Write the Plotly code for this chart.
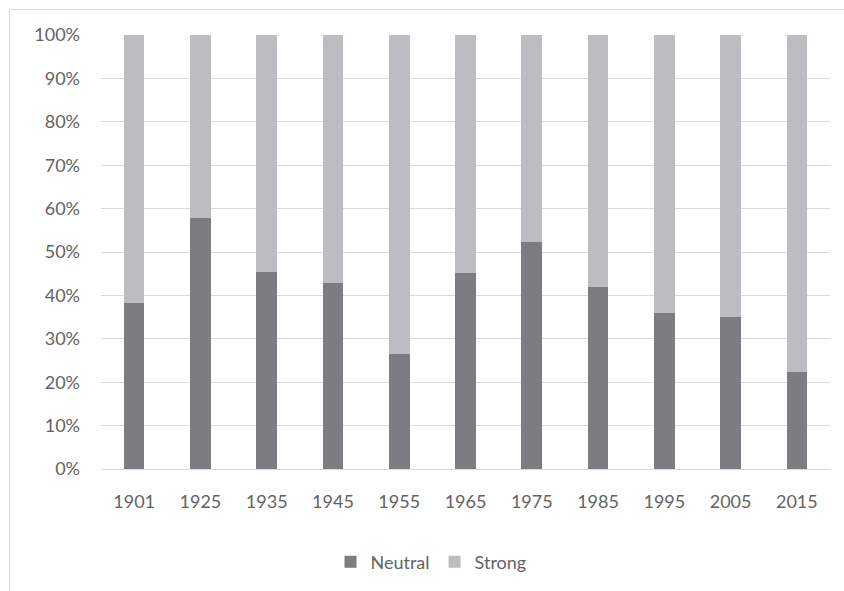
import plotly.graph_objects as go

# Share of each category per year (percent of total)
years = ["1901", "1925", "1935", "1945", "1955", "1965", "1975", "1985", "1995", "2005", "2015"]
neutral = [38.3, 57.9, 45.5, 42.8, 26.4, 45.1, 52.3, 41.9, 35.9, 35.1, 22.4]
strong = [61.7, 42.1, 54.5, 57.2, 73.6, 54.9, 47.7, 58.1, 64.1, 64.9, 77.6]
y_ticks = list(range(0, 101, 10))
y_tick_labels = [f"{v}%" for v in y_ticks]

W, H = 844, 591
L, R, T, B = 101, 14, 35, 121
plot_w = W - L - R
plot_h = H - T - B

FONT = "Lato, 'Open Sans', sans-serif"
TEXT = "#636363"

fig = go.Figure()
fig.add_trace(go.Bar(name="Neutral", x=years, y=neutral,
                     marker=dict(color="#7c7d81", line=dict(width=0))))
fig.add_trace(go.Bar(name="Strong", x=years, y=strong,
                     marker=dict(color="#bcbdc1", line=dict(width=0))))

# chart-area frame (left and top edges visible inside the page)
def px_x(p):
    return (p - L) / plot_w

def px_y(p):
    return (H - B - p) / plot_h

fig.add_shape(type="rect", xref="paper", yref="paper",
              x0=px_x(9.5), x1=px_x(W + 20), y0=px_y(H + 20), y1=px_y(9.5),
              line=dict(color="#d9d9d9", width=1), fillcolor="rgba(0,0,0,0)",
              layer="below")

fig.update_layout(
    barmode="stack",
    bargap=0.688,
    width=W, height=H,
    margin=dict(l=L, r=R, t=T, b=B, pad=0),
    paper_bgcolor="white",
    plot_bgcolor="white",
    font=dict(family=FONT, size=18, color=TEXT),
    showlegend=True,
    legend=dict(orientation="h", x=px_x(431), xanchor="center",
                y=px_y(562), yanchor="middle",
                font=dict(family=FONT, size=18, color=TEXT),
                traceorder="normal", itemwidth=30),
    xaxis=dict(showgrid=False, showline=False, zeroline=False,
               ticks="", ticklabelstandoff=20,
               tickfont=dict(family=FONT, size=18, color=TEXT)),
    yaxis=dict(range=[0, 100], tickmode="array", tickvals=y_ticks,
               ticktext=y_tick_labels,
               showgrid=True, gridcolor="#d9d9d9", gridwidth=1,
               zeroline=True, zerolinecolor="#d9d9d9", zerolinewidth=1,
               showline=False, ticks="", ticklabelstandoff=20,
               tickfont=dict(family=FONT, size=18, color=TEXT)),
)

fig.write_html("out.html")
